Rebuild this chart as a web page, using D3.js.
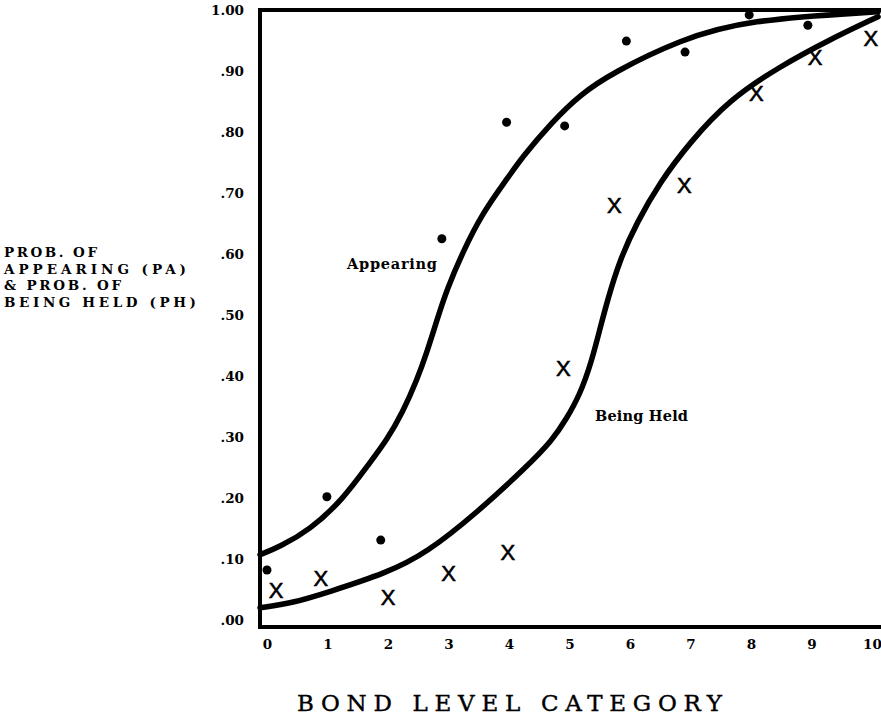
<!DOCTYPE html>
<html>
<head>
<meta charset="utf-8">
<script src="https://cdn.jsdelivr.net/npm/d3@7"></script>
<style>
    body { margin: 0; background: #fff; }
    svg { display: block; }
</style>
</head>
<body>
<svg id="chart" width="881" height="716"></svg>
<script>
var appearX = [0, 0.99, 1.88, 2.89, 3.96, 4.92, 5.94, 6.91, 7.97, 8.94];
var appearY = [0.082, 0.202, 0.131, 0.625, 0.816, 0.81, 0.949, 0.931, 0.992, 0.975];

var heldX = [0.15, 0.89, 2.0, 3.0, 3.98, 4.9, 5.74, 6.9, 8.09, 9.06, 9.98];
var heldY = [0.049, 0.069, 0.038, 0.077, 0.111, 0.413, 0.68, 0.713, 0.864, 0.923, 0.954];

// hand fitted curves
var appearCurveX = [-0.115, -0.115, 0.21, 0.71, 1.25, 1.7, 1.98, 2.24, 2.48, 2.64, 2.81, 2.97, 3.23, 3.56, 3.96, 4.22, 4.7, 5.17, 5.71, 6.82, 7.92, 10.1, 10.1];
var appearCurveY = [0.107, 0.107, 0.12, 0.148, 0.197, 0.258, 0.295, 0.34, 0.394, 0.438, 0.492, 0.541, 0.602, 0.667, 0.722, 0.759, 0.815, 0.861, 0.897, 0.951, 0.984, 0.997, 0.997];

var heldCurveX = [-0.115, -0.115, 0.43, 0.99, 1.98, 2.64, 3.47, 4.29, 4.72, 4.95, 5.17, 5.36, 5.5, 5.63, 5.83, 6.11, 6.49, 6.98, 7.64, 8.47, 9.29, 10.1, 10.1];
var heldCurveY = [0.02, 0.02, 0.028, 0.045, 0.077, 0.11, 0.176, 0.251, 0.295, 0.33, 0.369, 0.422, 0.476, 0.525, 0.59, 0.651, 0.717, 0.782, 0.853, 0.907, 0.951, 0.989, 0.989];

var xTicks = [0, 1, 2, 3, 4, 5, 6, 7, 8, 9, 10];
var yTicks = [0, 0.1, 0.2, 0.3, 0.4, 0.5, 0.6, 0.7, 0.8, 0.9, 1.0];
var yTitle = ["PROB. OF", "APPEARING (PA)", "& PROB. OF", "BEING HELD (PH)"];
var yTitleLen = [93, 182, 117, 192];

var serif = "'DejaVu Serif', 'Liberation Serif', serif";

var svg = d3.select("#chart");

var x = d3.scaleLinear().domain([0, 10]).range([267, 872]);
var y = d3.scaleLinear().domain([0, 1]).range([620, 10]);

var fmt = function (d) {
    return d == 1 ? "1.00" : d3.format(".2f")(d).replace(/^0/, "");
};

// frame (open on the right, the scan is cut there)
svg.append("path")
    .attr("d", "M881,10H260V627H881")
    .attr("fill", "none")
    .attr("stroke", "#000")
    .attr("stroke-width", 4);

var yAxis = svg.append("g")
    .call(d3.axisLeft(y).tickValues(yTicks).tickSize(0).tickPadding(16).tickFormat(fmt))
    .attr("transform", "translate(260,0)");
yAxis.select(".domain").remove();
yAxis.selectAll("text")
    .attr("font-family", serif)
    .attr("font-weight", "bold")
    .attr("font-size", 13.5)
    .attr("fill", "#000");

var xAxis = svg.append("g")
    .attr("transform", "translate(0,627)")
    .call(d3.axisBottom(x).tickValues(xTicks).tickSize(0).tickPadding(12));
xAxis.select(".domain").remove();
xAxis.selectAll("text")
    .attr("font-family", serif)
    .attr("font-weight", "bold")
    .attr("font-size", 13.5)
    .attr("fill", "#000");

svg.selectAll("text.ytitle")
    .data(yTitle)
    .enter()
    .append("text")
    .attr("class", "ytitle")
    .attr("x", 4)
    .attr("y", function (d, i) { return 257 + i * 16.5; })
    .attr("textLength", function (d, i) { return yTitleLen[i]; })
    .attr("lengthAdjust", "spacing")
    .attr("font-family", serif)
    .attr("font-size", 13.5)
    .attr("font-weight", "bold")
    .text(function (d) { return d; });

svg.append("text")
    .attr("x", 297)
    .attr("y", 711)
    .attr("textLength", 425)
    .attr("lengthAdjust", "spacing")
    .attr("font-family", serif)
    .attr("font-size", 23)
    .attr("stroke", "#000")
    .attr("stroke-width", 0.4)
    .text("BOND LEVEL CATEGORY");

var line = d3.line()
    .x(function (d) { return x(d[0]); })
    .y(function (d) { return y(d[1]); })
    .curve(d3.curveBasis);

svg.append("path")
    .datum(d3.zip(appearCurveX, appearCurveY))
    .attr("d", line)
    .attr("fill", "none")
    .attr("stroke", "#000")
    .attr("stroke-width", 5.5)
    .attr("stroke-linecap", "round");

svg.append("path")
    .datum(d3.zip(heldCurveX, heldCurveY))
    .attr("d", line)
    .attr("fill", "none")
    .attr("stroke", "#000")
    .attr("stroke-width", 5.5)
    .attr("stroke-linecap", "round");

svg.selectAll("circle.pa")
    .data(d3.zip(appearX, appearY))
    .enter()
    .append("circle")
    .attr("class", "pa")
    .attr("cx", function (d) { return x(d[0]); })
    .attr("cy", function (d) { return y(d[1]); })
    .attr("r", 4.5)
    .attr("fill", "#000");

svg.selectAll("text.ph")
    .data(d3.zip(heldX, heldY))
    .enter()
    .append("text")
    .attr("class", "ph")
    .attr("x", function (d) { return x(d[0]); })
    .attr("y", function (d) { return y(d[1]) + 8; })
    .attr("text-anchor", "middle")
    .attr("font-family", "'Liberation Sans', Arial, sans-serif")
    .attr("font-size", 22)
    .attr("stroke", "#000")
    .attr("stroke-width", 0.6)
    .text("X");

// curve labels
svg.append("text")
    .attr("x", 347)
    .attr("y", 269)
    .attr("textLength", 90)
    .attr("lengthAdjust", "spacing")
    .attr("font-family", serif)
    .attr("font-weight", "bold")
    .attr("font-size", 14.5)
    .text("Appearing");

svg.append("text")
    .attr("x", 595)
    .attr("y", 421)
    .attr("textLength", 93)
    .attr("lengthAdjust", "spacing")
    .attr("font-family", serif)
    .attr("font-weight", "bold")
    .attr("font-size", 14.5)
    .text("Being Held");
</script>
</body>
</html>
